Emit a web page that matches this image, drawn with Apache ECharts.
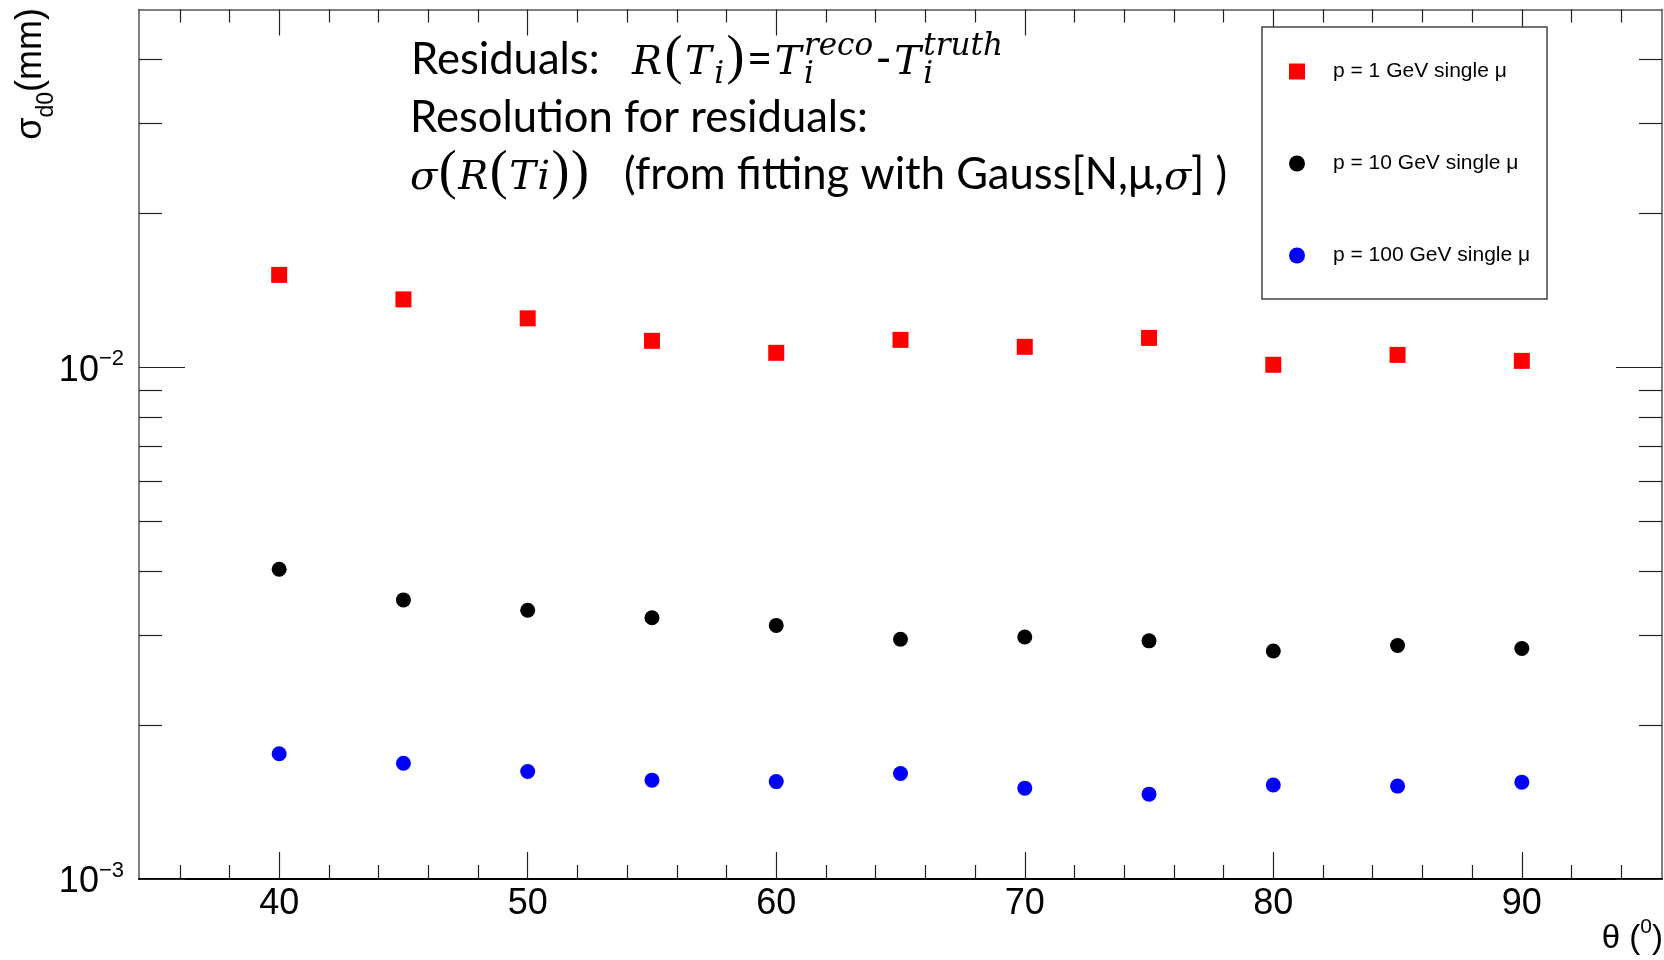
<!DOCTYPE html>
<html><head><meta charset="utf-8">
<script src="https://cdn.jsdelivr.net/npm/echarts@6/dist/echarts.min.js"></script>
<style>html,body{margin:0;padding:0;background:#fff}#c{width:1664px;height:960px}</style>
</head><body><div id="c"></div>
<script>
// ---- data ----
const thetaDeg = [40, 45, 50, 55, 60, 65, 70, 75, 80, 85, 90];
const sigmaP1 = [0.01515, 0.01357, 0.01246, 0.01126, 0.01067, 0.01131, 0.01096, 0.01141, 0.01011, 0.01057, 0.01029];
const sigmaP10 = [0.00403, 0.00351, 0.00335, 0.00324, 0.00313, 0.00294, 0.00297, 0.00292, 0.00279, 0.00286, 0.00282];
const sigmaP100 = [0.001757, 0.001683, 0.001622, 0.00156, 0.00155, 0.001607, 0.001505, 0.001465, 0.001526, 0.001519, 0.001546];
const seriesNames = ['p = 1 GeV single \u03bc', 'p = 10 GeV single \u03bc', 'p = 100 GeV single \u03bc'];
const xMajorTicks = [40, 50, 60, 70, 80, 90];
const xMinorTicks = [36, 38, 42, 44, 46, 48, 52, 54, 56, 58, 62, 64, 66, 68, 72, 74, 76, 78, 82, 84, 86, 88, 92, 94];
const yMajorTicks = [0.001, 0.01];
const yMinorTicks = [0.002, 0.003, 0.004, 0.005, 0.006, 0.007, 0.008, 0.009, 0.02, 0.03, 0.04];
const xRange = [34.36, 95.64];
const yRange = [0.001, 0.05];

// ---- text helpers (layout only) ----
const mctx = document.createElement('canvas').getContext('2d');
function measure(t, size, fam, it) {
  mctx.font = (it ? 'italic ' : '') + size + 'px "' + fam + '"';
  return mctx.measureText(t).width;
}
const K = { 'Lato': 0.387, 'DejaVu Serif': 0.346, 'Liberation Sans': 0.3465, 'Liberation Serif': 0.3375 };
function T(text, x, base, size, family, italic) {
  return { type: 'text', x: x, y: base - K[family] * size, z: 50,
    style: { text: text, fontSize: size, fontFamily: family, fontStyle: italic ? 'italic' : 'normal',
      fill: '#000', align: 'left', verticalAlign: 'middle' } };
}
const annSize = 100 * 458 / measure('Resolution for residuals:', 100, 'Lato');
const M = 'DejaVu Serif', MS = 40, SS = 31, PF = 'Liberation Serif', PS = 54;

function mathLine(items, x0, base, xEnd) {
  const specs = items.map(function (it) {
    if (Array.isArray(it)) {
      const kind = it[1];
      if (kind === 'mi') return { w: measure(it[0], MS, M, true), el: function (x) { return [T(it[0], x, base, MS, M, true)]; } };
      if (kind === 'mo') return { w: measure(it[0], PS, PF, false), el: function (x) { return [T(it[0], x, base, PS, PF, false)]; } };
      return { w: measure(it[0], annSize, 'Lato', false), el: function (x) { return [T(it[0], x, base, annSize, 'Lato', false)]; } };
    }
    const ws = it.sup ? measure(it.sup, SS, M, true) : 0;
    const wb = it.sub ? measure(it.sub, SS, M, true) : 0;
    return { w: Math.max(ws, wb), el: function (x) {
      const r = [];
      if (it.sup) r.push(T(it.sup, x, base - 19, SS, M, true));
      if (it.sub) r.push(T(it.sub, x, base + 9, SS, M, true));
      return r;
    } };
  });
  const natural = specs.reduce(function (s, p) { return s + p.w; }, 0);
  const gap = (xEnd - x0 - natural) / (specs.length - 1);
  let x = x0, out = [];
  specs.forEach(function (p) { out = out.concat(p.el(x)); x += p.w + gap; });
  return out;
}

const L1 = 77, L2 = 135, L3 = 192;
const annotation = [
  T('Residuals:', 411, L1, annSize, 'Lato'),
  T('Resolution for residuals:', 410, L2, annSize, 'Lato'),
  T('(from fitting with Gauss[N,\u03bc,', 624, L3, annSize, 'Lato'),
  T('\u03c3', 1164, L3, MS, M, true),
  T('] )', 1191, L3, annSize, 'Lato')
].concat(
  mathLine([['R', 'mi'], ['(', 'mo'], ['T', 'mi'], { sub: 'i' }, [')', 'mo'], ['=', 'txt'], ['T', 'mi'],
    { sup: 'reco', sub: 'i' }, ['-', 'txt'], ['T', 'mi'], { sup: 'truth', sub: 'i' }], 632, L1, 1003),
  mathLine([['\u03c3', 'mi'], ['(', 'mo'], ['R', 'mi'], ['(', 'mo'], ['T', 'mi'], ['i', 'mi'], [')', 'mo'], [')', 'mo']], 410, L3, 589)
);

const AX = '#555', TK = '#222';
const baseX = { type: 'value', min: xRange[0], max: xRange[1], gridIndex: 0,
  axisLine: { show: false, onZero: false }, splitLine: { show: false }, axisLabel: { show: false } };
const baseY = { type: 'log', logBase: 10, min: yRange[0], max: yRange[1], gridIndex: 0,
  axisLine: { show: false }, splitLine: { show: false }, axisLabel: { show: false } };

const xAxes = [
  Object.assign({}, baseX, { position: 'bottom',
    axisLine: { show: true, onZero: false, lineStyle: { color: '#000', width: 2 } },
    axisTick: { inside: true, length: 27, customValues: xMajorTicks, lineStyle: { color: TK, width: 1.2 } },
    axisLabel: { show: true, customValues: xMajorTicks, margin: 7, fontSize: 36, fontFamily: 'Liberation Sans', color: '#000' } }),
  Object.assign({}, baseX, { position: 'bottom',
    axisTick: { inside: true, length: 14, customValues: xMinorTicks, lineStyle: { color: TK, width: 1.2 } } }),
  Object.assign({}, baseX, { position: 'top',
    axisLine: { show: true, onZero: false, lineStyle: { color: AX, width: 1.5 } },
    axisTick: { inside: true, length: 26, customValues: xMajorTicks, lineStyle: { color: TK, width: 1.2 } } }),
  Object.assign({}, baseX, { position: 'top',
    axisTick: { inside: true, length: 13, customValues: xMinorTicks, lineStyle: { color: TK, width: 1.2 } } })
];
const yAxes = [
  Object.assign({}, baseY, { position: 'left',
    axisLine: { show: true, lineStyle: { color: AX, width: 1.5 } },
    axisTick: { inside: true, length: 46, customValues: yMajorTicks, lineStyle: { color: TK, width: 1.2 } },
    axisLabel: { show: true, customValues: yMajorTicks, margin: 15, padding: [7, 0, 0, 0],
      formatter: function (v) { return '{b|10}{s|\u2212' + Math.abs(Math.round(Math.log10(v))) + '}'; },
      rich: { b: { fontSize: 36, fontFamily: 'Liberation Sans', color: '#000' },
              s: { fontSize: 22, fontFamily: 'Liberation Sans', color: '#000', height: 12, verticalAlign: 'top' } } } }),
  Object.assign({}, baseY, { position: 'left',
    axisTick: { inside: true, length: 23, customValues: yMinorTicks, lineStyle: { color: TK, width: 1.2 } } }),
  Object.assign({}, baseY, { position: 'right',
    axisLine: { show: true, lineStyle: { color: AX, width: 1.5 } },
    axisTick: { inside: true, length: 46, customValues: yMajorTicks, lineStyle: { color: TK, width: 1.2 } } }),
  Object.assign({}, baseY, { position: 'right',
    axisTick: { inside: true, length: 23, customValues: yMinorTicks, lineStyle: { color: TK, width: 1.2 } } })
];

function pts(vals) { return thetaDeg.map(function (t, i) { return [t, vals[i]]; }); }

const option = {
  animation: false,
  backgroundColor: '#fff',
  grid: { left: 139, top: 9.5, right: 2, bottom: 81, containLabel: false },
  xAxis: xAxes,
  yAxis: yAxes,
  legend: {
    orient: 'vertical', left: 1289, top: 61, padding: 0, itemGap: 71,
    itemWidth: 16, itemHeight: 16, selectedMode: false,
    textStyle: { fontSize: 21, fontFamily: 'Liberation Sans', color: '#000', padding: [0, 0, 0, 23] },
    data: seriesNames
  },
  series: [
    { name: seriesNames[0], type: 'scatter', symbol: 'rect', symbolSize: 16, itemStyle: { color: '#ff0000', opacity: 1 }, data: pts(sigmaP1) },
    { name: seriesNames[1], type: 'scatter', symbol: 'circle', symbolSize: 15, itemStyle: { color: '#000000', opacity: 1 }, data: pts(sigmaP10) },
    { name: seriesNames[2], type: 'scatter', symbol: 'circle', symbolSize: 15, itemStyle: { color: '#0000ff', opacity: 1 }, data: pts(sigmaP100) }
  ],
  graphic: [
    { type: 'rect', z: 1, shape: { x: 1262, y: 27, width: 285, height: 272 },
      style: { fill: '#fff', stroke: '#444', lineWidth: 1.5 } },
    { type: 'text', x: 31, y: 8, rotation: Math.PI / 2, z: 50,
      style: { text: '{a|\u03c3}{s|d0}{a|(mm)}', align: 'right', verticalAlign: 'middle', fill: '#000',
        rich: { a: { fontSize: 36, fontFamily: 'Liberation Sans', color: '#000' },
                s: { fontSize: 23, fontFamily: 'Liberation Sans', color: '#000', height: 4, verticalAlign: 'bottom' } } } },
    { type: 'text', x: 1663, y: 922, z: 50,
      style: { text: '{a|\u03b8 (}{s|0}{a|)}', align: 'right', verticalAlign: 'top', fill: '#000',
        rich: { a: { fontSize: 33, fontFamily: 'Liberation Sans', color: '#000' },
                s: { fontSize: 21, fontFamily: 'Liberation Sans', color: '#000', height: 10, verticalAlign: 'top' } } } }
  ].concat(annotation)
};
const chart = echarts.init(document.getElementById('c'), null, { renderer: 'canvas' });
chart.setOption(option);
</script></body></html>
